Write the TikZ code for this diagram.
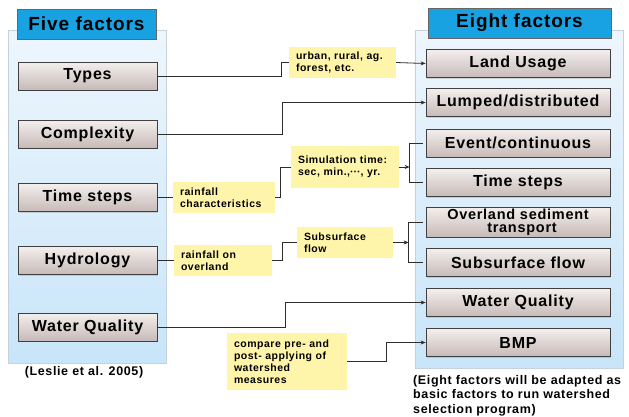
\documentclass[tikz,border=0pt]{standalone}
\usepackage{fontspec}
\setmainfont{Liberation Sans}[LetterSpace=5]
\usepackage{tikz}
\usetikzlibrary{calc}
\usetikzlibrary{arrows.meta}
\usetikzlibrary{shadows}

\definecolor{titleblue}{RGB}{24,162,226}
\definecolor{panelTop}{RGB}{238,246,253}
\definecolor{panelBot}{RGB}{200,229,249}
\definecolor{panelLine}{RGB}{196,210,222}
\definecolor{boxTop}{RGB}{244,239,237}
\definecolor{boxBot}{RGB}{198,186,183}
\definecolor{noteYellow}{RGB}{255,245,170}
\definecolor{wire}{RGB}{45,45,45}

\begin{document}
\begin{tikzpicture}[x=1pt,y=-1pt,
	panel/.style={draw=panelLine,line width=0.8pt,top color=panelTop,bottom color=panelBot},
	titlebox/.style={draw=black!60,fill=titleblue,minimum height=30pt,inner sep=0pt,
		font=\fontsize{19}{21}\selectfont\bfseries},
	factor/.style={draw=black!75,line width=0.7pt,top color=boxTop,bottom color=boxBot,
		minimum height=28pt,inner sep=0pt,align=center,
		drop shadow={shadow xshift=1pt,shadow yshift=-1pt,opacity=0.3},
		font=\fontsize{16}{12}\selectfont\bfseries},
	note/.style={fill=noteYellow,inner xsep=7pt,inner ysep=0pt,align=left,
		font=\fontsize{10.5}{12}\selectfont\bfseries},
	wires/.style={draw=wire,line width=0.8pt},
	tip/.style={wires,-{Stealth[length=5pt,width=4pt]}}]
			\useasboundingbox (0,0) rectangle (629,416);
			
			% panels
			\path[panel] (8,30) rectangle (166,363);
			\path[panel] (415,30) rectangle (623,368);
			\node[titlebox,minimum width=139pt] (T1) at (86.5,24) {Five factors};
			\node[titlebox,minimum width=183pt] (T2) at (519.5,23) {Eight factors};
			
			% five factors
			\node[factor,minimum width=139pt] (typ) at (87.5,76) {Types};
			\node[factor,minimum width=139pt] (cpx) at (87.5,134) {Complexity};
			\node[factor,minimum width=139pt] (tst) at (87.5,197.5) {Time steps};
			\node[factor,minimum width=139pt] (hyd) at (87.5,260.5) {Hydrology};
			\node[factor,minimum width=139pt] (wql) at (87.5,327) {Water Quality};
			
			% eight factors
			\node[factor,minimum width=184pt] (lnd) at (518,63.5) {Land Usage};
			\node[factor,minimum width=184pt] (lmp) at (518,102.5) {Lumped/distributed};
			\node[factor,minimum width=184pt] (evt) at (518,143) {Event/continuous};
			\node[factor,minimum width=184pt] (tsr) at (518,182.5) {Time steps};
			\node[factor,minimum width=184pt,minimum height=30pt,font=\fontsize{14.5}{13.5}\selectfont\bfseries] (ols) at (518,222)
				{Overland sediment\\\hspace*{8pt}transport};
			\node[factor,minimum width=184pt] (sbf) at (518,262.5) {Subsurface flow};
			\node[factor,minimum width=184pt] (wqr) at (518,302.5) {Water Quality};
			\node[factor,minimum width=184pt] (bmp) at (518,342.5) {BMP};
			
			% notes
			\node[note,text width=93pt,minimum height=31pt] (urb) at (342.5,62.5) {urban, rural, ag.\\forest, etc.};
			\node[note,text width=94pt,minimum height=42pt] (sim) at (345,167) {Simulation time:\\sec, min.,{\addfontfeature{LetterSpace=0}···}, yr.};
			\node[note,text width=88pt,minimum height=31pt] (rai) at (224,197.5) {rainfall\\characteristics};
			\node[note,text width=84pt,minimum height=31pt] (ovl) at (223,260.5) {rainfall on\\overland};
			\node[note,text width=82pt,minimum height=31pt] (sub) at (345,242.5) {Subsurface\\flow};
			\node[note,text width=106pt,minimum height=57pt] (cmp) at (287,361.5) {compare pre- and\\post- applying of\\watershed\\measures};
			
			% captions
			\node[font=\fontsize{12.5}{15}\selectfont\bfseries] (src) at (84,372) {(Leslie et al. 2005)};
			\node[anchor=north west,align=left,inner sep=0pt,font=\fontsize{12.5}{14.5}\selectfont\bfseries] (cap) at (413,375)
				{(Eight factors will be adapted as\\basic factors to run watershed\\selection program)};
			
			% brackets
			\coordinate (b1) at ($(evt.west)!0.5!(tsr.west)+(-16,0)$);
			\coordinate (b2) at ($(ols.west)!0.5!(sbf.west)+(-17,0)$);
			\draw[wires] ([xshift=-3pt]evt.west) -| ([xshift=-16pt]tsr.west) -- ([xshift=-3pt]tsr.west);
			\draw[wires] ([xshift=-3pt]ols.west) -| ([xshift=-17pt]sbf.west) -- ([xshift=-3pt]sbf.west);
			
			% connectors
			\draw[wires] (typ.east) -| ([xshift=-7pt]urb.west) -- (urb.west);
			\draw[tip] (urb.east) -- (lnd.west);
			\draw[tip] (cpx.east) -| ([xshift=-143pt]lmp.west) -- (lmp.west);
			\draw[wires] (tst.east) -- (rai.west);
			\draw[wires] (rai.east) -| ([xshift=-10pt]sim.west) -- (sim.west);
			\draw[tip] (sim.east) -- (sim.east -| b1);
			\draw[wires] (hyd.east) -- (ovl.west);
			\draw[wires] (ovl.east) -| ([xshift=-14pt]sub.west) -- (sub.west);
			\draw[tip] (sub.east) -- (sub.east -| b2);
			\draw[tip] (wql.east) -| ([xshift=-140pt]wqr.west) -- (wqr.west);
			\draw[tip] (cmp.east) -| ([xshift=-39pt]bmp.west) -- (bmp.west);
		\end{tikzpicture}
\end{document}
